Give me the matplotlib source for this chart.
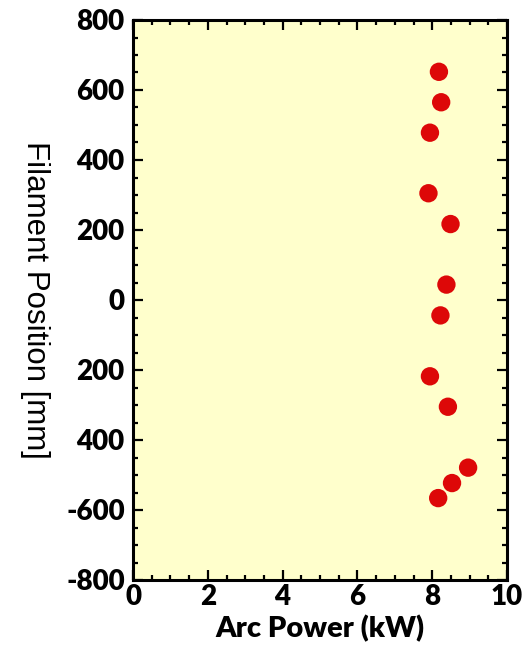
import numpy as np
import matplotlib
matplotlib.use("Agg")
import matplotlib.pyplot as plt
from matplotlib.ticker import MultipleLocator

#%% data
arc_power = [8.18, 8.24, 7.94, 7.90, 8.49, 8.38, 8.22, 7.94, 8.42, 8.96, 8.53, 8.16]
position = [652, 565, 478, 305, 217, 44, -44, -218, -305, -479, -523, -566]

y_ticks = [800, 600, 400, 200, 0, -200, -400, -600, -800]
y_ticklabels = ["800", "600", "400", "200", "0", "200", "400", "-600", "-800"]
x_ticks = [0, 2, 4, 6, 8, 10]

#%% plot
fig = plt.figure(figsize=(5.27, 6.48), dpi=100)
ax = fig.add_axes([133 / 527, 68 / 648, 374 / 527, 560 / 648])
ax.set_facecolor("#FFFFCC")

ax.scatter(arc_power, position, s=175, color="#DD0808", edgecolors="none", zorder=3)

ax.set_xlim(0, 10)
ax.set_ylim(-800, 800)
ax.set_xticks(x_ticks)
ax.set_yticks(y_ticks)
ax.set_yticklabels(y_ticklabels)
ax.xaxis.set_minor_locator(MultipleLocator(0.5))
ax.yaxis.set_minor_locator(MultipleLocator(50))

ax.tick_params(which="both", direction="in", top=True, right=True, width=1.6)
ax.tick_params(which="major", length=7.5)
ax.tick_params(which="minor", length=3.8)
ax.tick_params(axis="y", pad=6)
ax.tick_params(axis="x", pad=3)
for lbl in ax.get_xticklabels() + ax.get_yticklabels():
    lbl.set_fontfamily("Lato")
    lbl.set_fontweight("heavy")
    lbl.set_fontsize(20)
for sp in ax.spines.values():
    sp.set_linewidth(2.2)

ax.set_xlabel("Arc Power (kW)", fontsize=21, fontweight="heavy", family="Lato")
ax.xaxis.set_label_coords(0.5, -0.062)
ax.xaxis.label.set_va("top")
ax.set_ylabel("Filament Position [mm]", fontsize=22.5, family="Liberation Sans",
              rotation=270, va="center")
ax.yaxis.set_label_coords(-0.262, 0.5)

fig.savefig("out.png", dpi=100)
